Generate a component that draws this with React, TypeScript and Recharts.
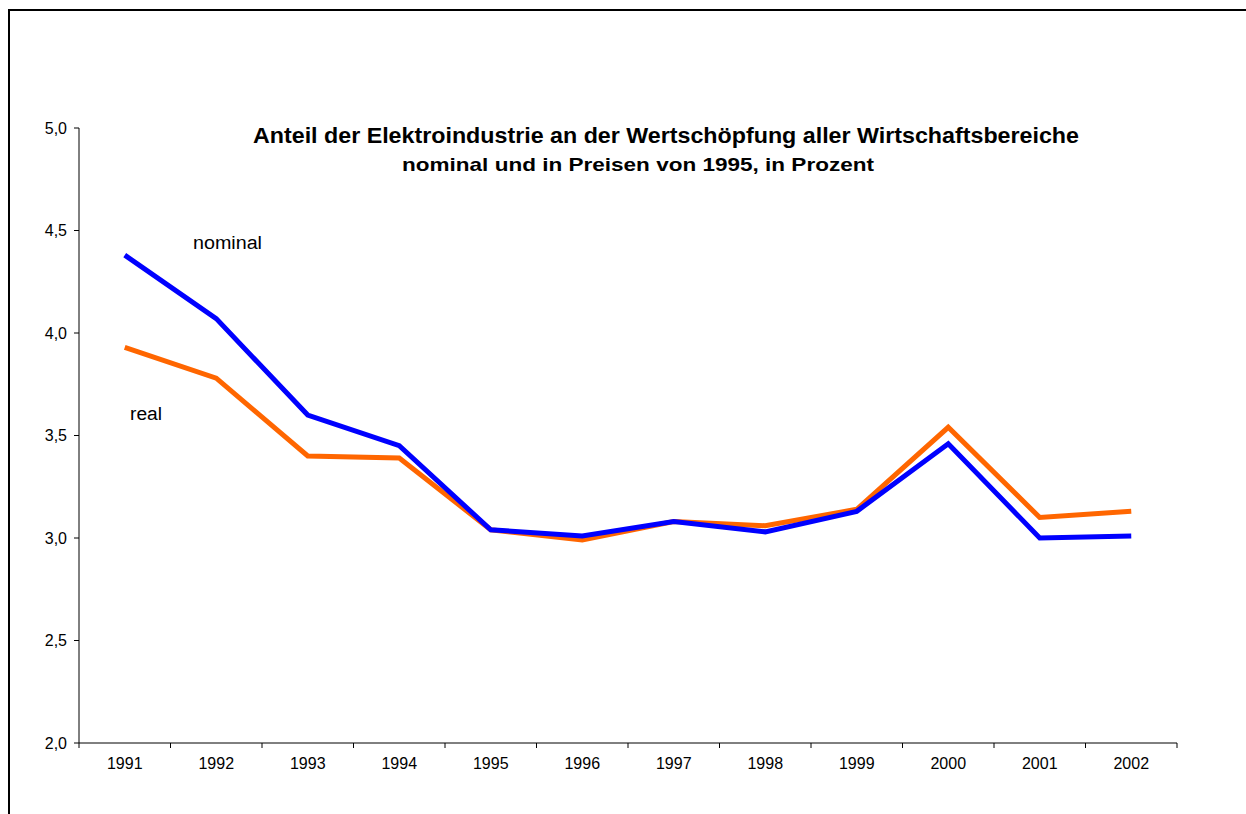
import { LineChart, Line, XAxis, YAxis } from 'recharts';

const years = ['1991', '1992', '1993', '1994', '1995', '1996', '1997', '1998', '1999', '2000', '2001', '2002'];
const nominal = [4.38, 4.07, 3.6, 3.45, 3.04, 3.01, 3.08, 3.03, 3.13, 3.46, 3.0, 3.01];
const real = [3.93, 3.78, 3.4, 3.39, 3.04, 2.99, 3.08, 3.06, 3.14, 3.54, 3.1, 3.13];
const yTicks = [2, 2.5, 3, 3.5, 4, 4.5, 5];

const title = 'Anteil der Elektroindustrie an der Wertschöpfung aller Wirtschaftsbereiche';
const subtitle = 'nominal und in Preisen von 1995, in Prozent';

// each year sits in the middle of its band, ticks mark the band edges
const data = years.map((year, i) => ({ pos: i + 0.5, year, nominal: nominal[i], real: real[i] }));
const bandEdges = years.map((_, i) => i).concat(years.length);
const bandCentres = years.map((_, i) => i + 0.5);

const FONT = '"Liberation Sans", Arial, sans-serif';

export default function App() {
  return (
    <div style={{ position: 'fixed', left: 0, top: 0, width: 1246, height: 814, overflow: 'hidden', background: '#fff' }}>
      <div
        style={{
          position: 'absolute',
          left: 8,
          top: 9,
          width: 1300,
          height: 900,
          borderLeft: '2px solid #000',
          borderTop: '2px solid #000',
        }}
      />
      <div style={{ position: 'absolute', left: 0, top: 0 }}>
        <LineChart
          width={1246}
          height={814}
          data={data}
          margin={{ top: 128, right: 69, bottom: 41, left: 29 }}
          style={{ fontFamily: FONT }}
        >
          <XAxis
            xAxisId="edges"
            type="number"
            dataKey="pos"
            domain={[0, years.length]}
            ticks={bandEdges}
            tickFormatter={() => ''}
            tickSize={5}
            height={1}
            stroke="#000"
            interval={0}
          />
          <XAxis
            xAxisId="labels"
            type="number"
            dataKey="pos"
            domain={[0, years.length]}
            ticks={bandCentres}
            tickFormatter={(v: number) => years[Math.floor(v)]}
            axisLine={false}
            tickLine={false}
            tickSize={6}
            tickMargin={8}
            height={29}
            tick={{ fill: '#000', fontSize: 16 }}
            interval={0}
          />
          <YAxis
            type="number"
            domain={[2, 5]}
            ticks={yTicks}
            tickFormatter={(v: number) => v.toFixed(1).replace('.', ',')}
            width={50}
            tickSize={5}
            tickMargin={7}
            stroke="#000"
            tick={{ fill: '#000', fontSize: 16 }}
            interval={0}
          />
          <Line
            xAxisId="edges"
            type="linear"
            dataKey="real"
            stroke="#FF6600"
            strokeWidth={5}
            dot={false}
            isAnimationActive={false}
          />
          <Line
            xAxisId="edges"
            type="linear"
            dataKey="nominal"
            stroke="#0000FF"
            strokeWidth={5}
            dot={false}
            isAnimationActive={false}
          />
        </LineChart>
      </div>
      <svg width={1246} height={814} style={{ position: 'absolute', left: 0, top: 0, pointerEvents: 'none', fontFamily: FONT }}>
        <text x={253} y={143} fontSize={22} fontWeight="bold" fill="#000" textLength={826} lengthAdjust="spacingAndGlyphs">
          {title}
        </text>
        <text x={402} y={171} fontSize={19} fontWeight="bold" fill="#000" textLength={472} lengthAdjust="spacingAndGlyphs">
          {subtitle}
        </text>
        <text x={193} y={249} fontSize={18} fill="#000" textLength={69} lengthAdjust="spacingAndGlyphs">nominal</text>
        <text x={130} y={420} fontSize={18} fill="#000" textLength={32} lengthAdjust="spacingAndGlyphs">real</text>
      </svg>
    </div>
  );
}
